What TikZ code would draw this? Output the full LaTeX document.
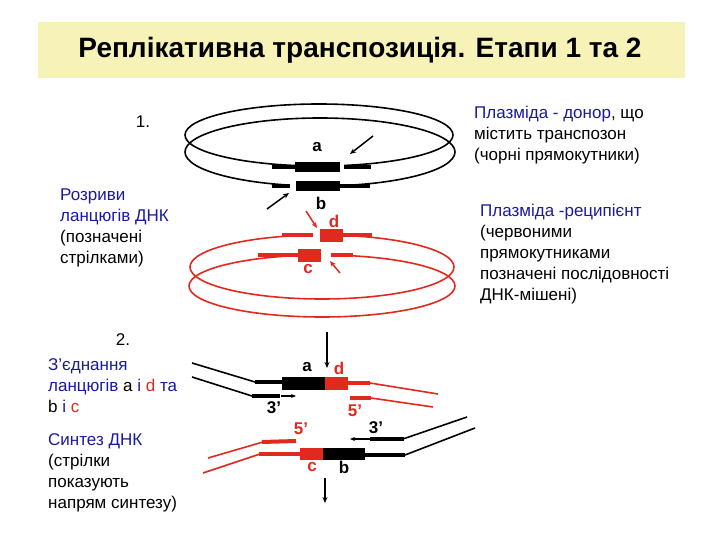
\documentclass[tikz,border=0pt]{standalone}
\usepackage{fontspec}
\setmainfont{Liberation Sans}
\usetikzlibrary{arrows.meta}
\definecolor{tblue}{HTML}{1A1AA0}
\definecolor{dred}{HTML}{E02A20}
\definecolor{ttl}{HTML}{F7F3B8}
\begin{document}
\begin{tikzpicture}[x=1pt,y=-1pt,
  txt/.style={anchor=north west,align=left,inner sep=0pt,font=\fontsize{17}{21}\selectfont},
  lab/.style={inner sep=0pt,font=\bfseries\fontsize{17}{17}\selectfont},
  bk/.style={line width=1.6pt,black},
  rd/.style={line width=1.6pt,dred},
  arr/.style={line width=1.5pt,-{Stealth[length=6pt,width=5pt]}}]
\useasboundingbox (0,0) rectangle (720,540);
\fill[white] (0,0) rectangle (720,540);
\fill[ttl] (38,22) rectangle (685,78);
\node[font=\bfseries\fontsize{28}{28}\selectfont] (title) at (360,50) {Реплікативна транспозиція. Етапи 1 та 2};
% stage 1 black plasmid
\draw[bk] (319,135) ellipse [x radius=134, y radius=31];
\draw[bk] (320,152) ellipse [x radius=135, y radius=34];
\fill[white] (340,160) rectangle (344,175);
\fill[white] (290,178) rectangle (296,194);
\draw[line width=4pt] (272,167) -- (295,167);
\draw[line width=4pt] (344,167) -- (371,167);
\fill (295,162) rectangle (340,172);
\draw[line width=4pt] (272,186) -- (290,186);
\draw[line width=4pt] (340,186) -- (370,186);
\fill (296,181) rectangle (340,191);
\coordinate (t1s) at (373,136); \coordinate (t1e) at (350,154);
\draw[arr] (t1s) -- (t1e);
\coordinate (t2s) at (267,209); \coordinate (t2e) at (289,193);
\draw[arr] (t2s) -- (t2e);
\node[lab] (la) at (317,147) {a};
\node[lab] (lb) at (321,203) {b};
% red plasmid
\draw[rd] (322,267) ellipse [x radius=132, y radius=32];
\draw[rd] (322,286) ellipse [x radius=133, y radius=31];
\fill[white] (313,228) rectangle (320,244);
\fill[white] (321,246) rectangle (331,266);
\draw[dred,line width=4pt] (282,235) -- (313,235);
\draw[dred,line width=4pt] (343,235) -- (372,235);
\fill[dred] (320,229) rectangle (343,242);
\draw[dred,line width=4pt] (258,255) -- (298,255);
\draw[dred,line width=4pt] (331,255) -- (353,255);
\fill[dred] (298,249) rectangle (321,262);
\coordinate (r1s) at (306,211); \coordinate (r1e) at (317,228);
\draw[arr,dred] (r1s) -- (r1e);
\coordinate (r2s) at (340,273); \coordinate (r2e) at (330,261);
\draw[arr,dred] (r2s) -- (r2e);
\node[lab,dred] (ld) at (334,221) {d};
\node[lab,dred] (lc) at (308,269) {c};
% stage 2 upper
\draw[bk] (192,363) -- (255,382);
\draw[line width=4pt] (255,382) -- (283,382);
\fill (282,377) rectangle (325,390);
\fill[dred] (325,377) rectangle (348,390);
\draw[dred,line width=4pt] (347,383) -- (370,383);
\draw[rd] (370,383) -- (438,394);
\draw[bk] (192,377) -- (252,396);
\draw[line width=4pt] (252,396) -- (280,396);
\coordinate (s1s) at (281,396); \coordinate (s1e) at (296,396);
\draw[line width=1.2pt,-{Stealth[length=5pt,width=4pt]}] (s1s) -- (s1e);
\draw[dred,line width=4pt] (350,398) -- (371,398);
\draw[rd] (371,398) -- (433,407);
\node[lab] (p3a) at (274,408) {3'};
\node[lab,dred] (p5a) at (355,411) {5'};
\coordinate (d1s) at (327,332); \coordinate (d1e) at (327,368);
\draw[arr] (d1s) -- (d1e);
\node[lab] (la2) at (307,367) {a};
\node[lab,dred] (ld2) at (339,368) {d};
% stage 2 lower
\draw[rd] (208,458) -- (263,442);
\draw[dred,line width=4pt] (262,442) -- (296,441);
\draw[line width=4pt] (370,439) -- (404,439);
\coordinate (s2s) at (370,439); \coordinate (s2e) at (350,439);
\draw[line width=1.2pt,-{Stealth[length=5pt,width=4pt]}] (s2s) -- (s2e);
\draw[bk] (403,439) -- (467,417);
\draw[rd] (203,473) -- (260,454);
\draw[dred,line width=4pt] (259,454) -- (301,454);
\fill[dred] (300,448) rectangle (323,460);
\fill (323,448) rectangle (365,460);
\draw[line width=4pt] (364,455) -- (405,455);
\draw[bk] (405,455) -- (475,428);
\node[lab,dred] (p5b) at (301,429) {5'};
\node[lab] (p3b) at (376,428) {3'};
\node[lab,dred] (lc2) at (312,467) {c};
\node[lab] (lb2) at (344,467) {b};
\coordinate (d2s) at (325,478); \coordinate (d2e) at (325,503);
\draw[arr] (d2s) -- (d2e);
% texts
\node[font=\fontsize{17}{17}\selectfont] (n1) at (143,122) {1.};
\node[font=\fontsize{17}{17}\selectfont] (n2) at (123,340) {2.};
\node[txt] (t1) at (60,189) {\textcolor{tblue}{Розриви}\\\textcolor{tblue}{ланцюгів ДНК}\\(позначені\\стрілками)};
\node[txt] (t2) at (48,358) {\textcolor{tblue}{З’єднання}\\\textcolor{tblue}{ланцюгів} a \textcolor{tblue}{і} \textcolor{dred}{d} \textcolor{tblue}{та}\\b \textcolor{tblue}{і} \textcolor{dred}{c}};
\node[txt] (t3) at (48,433) {\textcolor{tblue}{Синтез ДНК}\\(стрілки\\показують\\напрям синтезу)};
\node[txt] (t4) at (474,106) {\textcolor{tblue}{Плазміда - донор}, що\\містить транспозон\\(чорні прямокутники)};
\node[txt] (t5) at (480,204) {\textcolor{tblue}{Плазміда -реципієнт}\\(червоними\\прямокутниками\\позначені послідовності\\ДНК-мішені)};
\end{tikzpicture}
\end{document}
